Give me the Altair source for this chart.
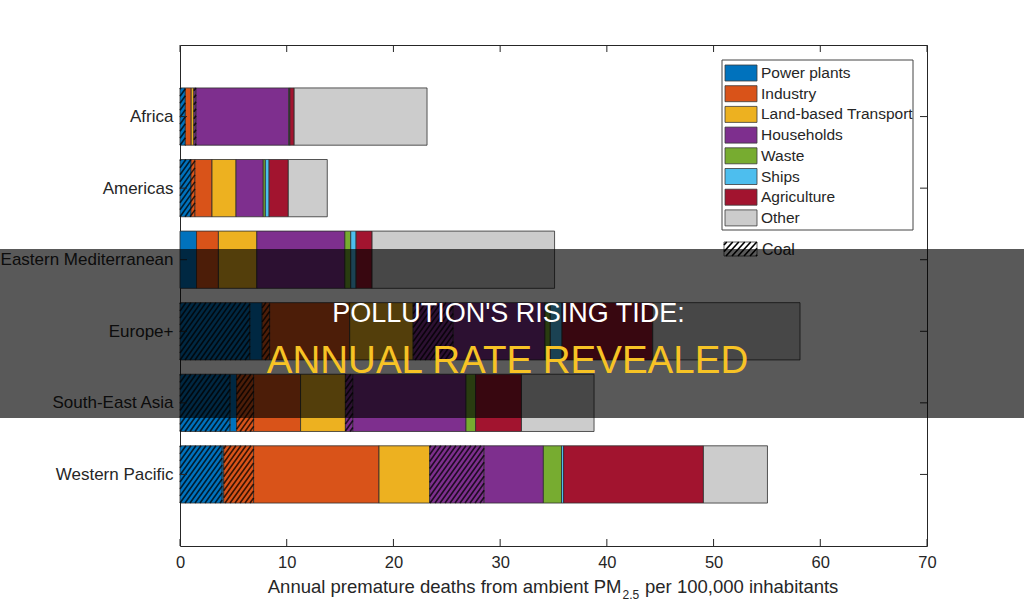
import altair as alt
import numpy as np
import pandas as pd

# ---------------- data ----------------
regions = ["Africa", "Americas", "Eastern Mediterranean", "Europe+",
           "South-East Asia", "Western Pacific"]
sectors = ["Power plants", "Industry", "Land-based Transport", "Households",
           "Waste", "Ships", "Agriculture", "Other"]
sector_colors = ["#0072BD", "#D95319", "#EDB120", "#7E2F8E",
                 "#77AC30", "#4DBEEE", "#A2142F", "#CCCCCC"]

# deaths per 100,000 inhabitants, one value per region (order as in `regions`)
power_coal       = [0.50, 1.03, 0.00, 6.55, 4.70, 3.95]
power_other      = [0.00, 0.00, 1.55, 1.15, 0.60, 0.15]
industry_coal    = [0.00, 0.37, 0.00, 0.70, 1.60, 2.80]
industry_other   = [0.55, 1.60, 2.05, 7.50, 4.40, 11.75]
transport        = [0.25, 2.25, 3.60, 5.95, 4.20, 4.75]
households_coal  = [0.20, 0.00, 0.00, 3.75, 0.70, 5.10]
households_other = [8.70, 2.55, 8.25, 8.60, 10.60, 5.55]
waste            = [0.05, 0.20, 0.55, 0.50, 0.90, 1.70]
ships            = [0.05, 0.35, 0.50, 1.10, 0.00, 0.20]
agriculture      = [0.40, 1.80, 1.50, 8.50, 4.30, 13.10]
other            = [12.45, 3.65, 17.10, 13.80, 6.80, 6.00]

x_ticks = [0, 10, 20, 30, 40, 50, 60, 70]
x_title_main = "Annual premature deaths from ambient PM"
x_title_sub = "2.5"
x_title_tail = "per 100,000 inhabitants"
coal_label = "Coal"
headline_1 = "POLLUTION'S RISING TIDE:"
headline_2 = "ANNUAL RATE REVEALED"

# ---------------- layout / style ----------------
W, H = 747, 501
X_MAX, Y_MAX = 70, 7
PX_X = W / X_MAX
PX_Y = H / Y_MAX
HALF_BAR = 0.4
FONT = "Liberation Sans"
INK = "#262626"
EDGE = "#2e2e2e"
HATCH_SP = 5.0     # horizontal spacing of hatch lines (px)
HATCH_K = 1.4      # slope of hatch lines (px/px)

stack = [
    ("Power plants", True, power_coal),
    ("Power plants", False, power_other),
    ("Industry", True, industry_coal),
    ("Industry", False, industry_other),
    ("Land-based Transport", False, transport),
    ("Households", True, households_coal),
    ("Households", False, households_other),
    ("Waste", False, waste),
    ("Ships", False, ships),
    ("Agriculture", False, agriculture),
    ("Other", False, other),
]
y_pos = list(range(1, len(regions) + 1))

rows = []
for i, reg in enumerate(regions):
    pos = y_pos[i]
    acc = 0.0
    for sector, coal, vals in stack:
        v = vals[i]
        if v > 0:
            rows.append(dict(region=reg, sector=sector, coal=coal, start=acc,
                             end=acc + v, top=pos - HALF_BAR,
                             bottom=pos + HALF_BAR, pos=pos))
        acc += v
seg_df = pd.DataFrame(rows)


def hatch_lines(x0, x1, height, sp, k):
    """diagonal lines clipped to [x0,x1] x [0,height] (px, u upward)"""
    out = []
    n0 = int(np.floor((x0 - height / k) / sp)) - 1
    n1 = int(np.ceil(x1 / sp)) + 1
    for n in range(n0, n1 + 1):
        c = n * sp
        ua = max(0.0, (x0 - c) * k)
        ub = min(height, (x1 - c) * k)
        if ub - ua > 0.4:
            out.append((c + ua / k, ua, c + ub / k, ub))
    return out


hrows = []
bar_px = 2 * HALF_BAR * PX_Y
for _, r in seg_df[seg_df["coal"]].iterrows():
    for xa, ua, xb, ub in hatch_lines(r["start"] * PX_X, r["end"] * PX_X,
                                      bar_px, HATCH_SP, HATCH_K):
        hrows.append(dict(hx0=xa / PX_X, hx1=xb / PX_X,
                          hy0=r["bottom"] - ua / PX_Y,
                          hy1=r["bottom"] - ub / PX_Y))
hatch_df = pd.DataFrame(hrows)

xs = alt.Scale(domain=[0, X_MAX], nice=False, zero=False)
ys = alt.Scale(domain=[0, Y_MAX], nice=False, zero=False, reverse=True)
label_expr = "[" + ", ".join("'" + r + "'" for r in regions) + "][round(datum.value) - 1]"

one = pd.DataFrame({"k": [0]})
layers = []

bars = alt.Chart(seg_df).mark_rect(stroke=EDGE, strokeWidth=0.8).encode(
    x=alt.X("start:Q", scale=xs, title=None,
            axis=alt.Axis(values=x_ticks, format="d", labelFont=FONT,
                          labelFontSize=16.5, labelColor=INK, labelPadding=8,
                          labelFlush=False, domain=False, ticks=False,
                          tickSize=0, grid=False, zindex=0)),
    x2="end:Q",
    y=alt.Y("top:Q", scale=ys, title=None,
            axis=alt.Axis(values=y_pos, labelExpr=label_expr, labelFont=FONT,
                          labelFontSize=17, labelColor=INK, labelPadding=7,
                          domain=False, ticks=False, tickSize=0, grid=False,
                          zindex=0)),
    y2="bottom:Q",
    color=alt.Color("sector:N", scale=alt.Scale(domain=sectors, range=sector_colors),
                    legend=None),
)
layers.append(bars)

hatch = alt.Chart(hatch_df).mark_rule(color="black", strokeWidth=1.6, opacity=0.75).encode(
    x=alt.X("hx0:Q", scale=xs, title=None), x2="hx1:Q",
    y=alt.Y("hy0:Q", scale=ys, title=None), y2="hy1:Q",
)
layers.append(hatch)

# inward ticks on all four sides
TICK = 7
xt_df = pd.DataFrame({"v": x_ticks})
yt_df = pd.DataFrame({"v": y_pos})
layers.append(alt.Chart(xt_df).mark_rule(color=INK, strokeWidth=1).encode(
    x=alt.X("v:Q", scale=xs, title=None), y=alt.value(H), y2=alt.value(H - TICK)))
layers.append(alt.Chart(xt_df).mark_rule(color=INK, strokeWidth=1).encode(
    x=alt.X("v:Q", scale=xs, title=None), y=alt.value(0), y2=alt.value(TICK)))
layers.append(alt.Chart(yt_df).mark_rule(color=INK, strokeWidth=1).encode(
    y=alt.Y("v:Q", scale=ys, title=None), x=alt.value(0), x2=alt.value(TICK)))
layers.append(alt.Chart(yt_df).mark_rule(color=INK, strokeWidth=1).encode(
    y=alt.Y("v:Q", scale=ys, title=None), x=alt.value(W), x2=alt.value(W - TICK)))

# legend (inside the plot, top right)
LEG_X0, LEG_X1, LEG_Y0, LEG_Y1 = 542, 733, 15, 185
ROW0, ROW_STEP = 28, 20.7
layers.append(alt.Chart(one).mark_rect(fill="white", stroke="#444444", strokeWidth=1).encode(
    x=alt.value(LEG_X0), x2=alt.value(LEG_X1), y=alt.value(LEG_Y0), y2=alt.value(LEG_Y1)))
for i, (s, c) in enumerate(zip(sectors, sector_colors)):
    yc = ROW0 + i * ROW_STEP
    layers.append(alt.Chart(one).mark_rect(fill=c, stroke="#3a3a3a", strokeWidth=0.8).encode(
        x=alt.value(545), x2=alt.value(577), y=alt.value(yc - 8), y2=alt.value(yc + 8)))
    layers.append(alt.Chart(one).mark_text(align="left", baseline="middle", font=FONT,
                                           fontSize=15.5, color=INK).encode(
        x=alt.value(581), y=alt.value(yc), text=alt.value(s)))

# coal swatch
CX0, CX1, CY0, CY1 = 544, 577, 197, 211
layers.append(alt.Chart(one).mark_rect(fill="white", stroke="#3a3a3a", strokeWidth=0.8).encode(
    x=alt.value(CX0), x2=alt.value(CX1), y=alt.value(CY0), y2=alt.value(CY1)))
for xa, ua, xb, ub in hatch_lines(CX0, CX1, CY1 - CY0, 6.0, 1.1):
    layers.append(alt.Chart(one).mark_rule(color="black", strokeWidth=1.6).encode(
        x=alt.value(xa), x2=alt.value(xb), y=alt.value(CY1 - ua), y2=alt.value(CY1 - ub)))
layers.append(alt.Chart(one).mark_text(align="left", baseline="middle", font=FONT,
                                       fontSize=16, color=INK).encode(
    x=alt.value(582), y=alt.value(205), text=alt.value(coal_label)))

# x-axis title with subscript
TITLE_FS = 18.5
layers.append(alt.Chart(one).mark_text(align="right", baseline="alphabetic", font=FONT,
                                       fontSize=TITLE_FS, color=INK).encode(
    x=alt.value(441.5), y=alt.value(548), text=alt.value(x_title_main)))
layers.append(alt.Chart(one).mark_text(align="left", baseline="alphabetic", font=FONT,
                                       fontSize=12, color=INK).encode(
    x=alt.value(442.5), y=alt.value(554), text=alt.value(x_title_sub)))
layers.append(alt.Chart(one).mark_text(align="left", baseline="alphabetic", font=FONT,
                                       fontSize=TITLE_FS, color=INK).encode(
    x=alt.value(465), y=alt.value(548), text=alt.value(x_title_tail)))

# dark banner with headline
layers.append(alt.Chart(one).mark_rect(fill="black", opacity=0.65).encode(
    x=alt.value(-180), x2=alt.value(844), y=alt.value(204), y2=alt.value(373)))
layers.append(alt.Chart(one).mark_text(align="center", baseline="alphabetic", font=FONT,
                                       fontSize=27, color="#ffffff").encode(
    x=alt.value(328.5), y=alt.value(276.5), text=alt.value(headline_1)))
layers.append(alt.Chart(one).mark_text(align="center", baseline="alphabetic", font=FONT,
                                       fontSize=38.5, fontWeight=500, color="#F7C325").encode(
    x=alt.value(327.5), y=alt.value(328), text=alt.value(headline_2)))

chart = alt.layer(*layers).properties(
    width=W, height=H,
    autosize=alt.AutoSizeParams(type="none"),
    padding={"left": 180, "top": 45, "right": 97, "bottom": 68},
    background="white",
).configure_view(stroke=INK, strokeWidth=1)

chart.save("out.html", embed_options={"renderer": "svg", "actions": False})
